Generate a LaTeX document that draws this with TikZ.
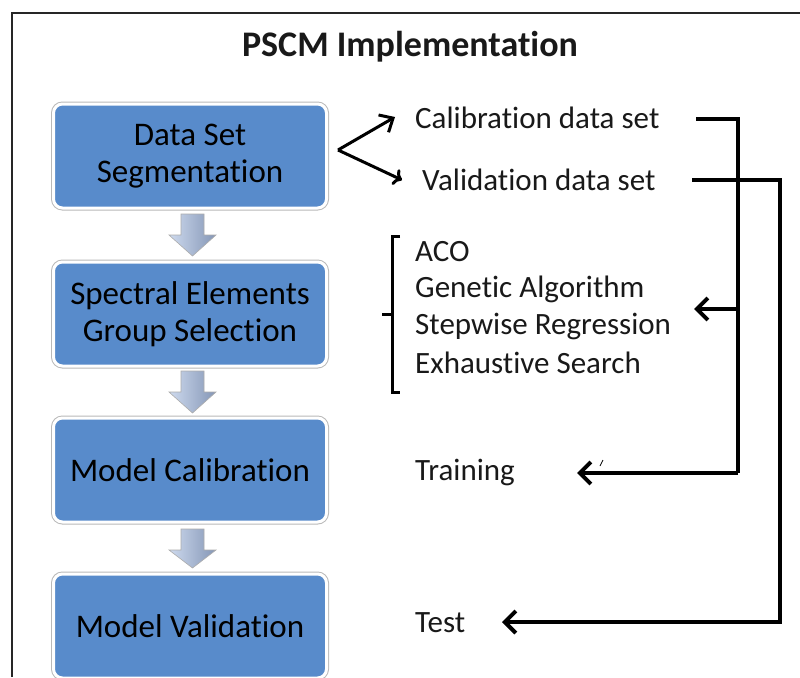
\documentclass[tikz,border=0pt]{standalone}
\usepackage{fontspec}
\setmainfont{Carlito}[Ligatures={NoCommon,NoRare,NoContextual}]
\usetikzlibrary{arrows.meta}
\definecolor{boxblue}{RGB}{88,139,203}
\definecolor{inkgray}{RGB}{25,25,25}
\definecolor{arrowlight}{RGB}{206,218,238}
\definecolor{arrowdark}{RGB}{132,150,182}
\begin{document}
\begin{tikzpicture}[x=1pt,y=-1pt,
  stage/.style={rounded corners=9pt, fill=boxblue, draw=white, line width=3pt,
    preaction={draw=gray!55, line width=5pt},
    minimum width=273pt, minimum height=104pt, align=center, inner sep=0pt,
    font=\fontsize{33}{37}\selectfont, text=black},
  side/.style={anchor=west, inner sep=0pt, font=\fontsize{31}{36}\selectfont, text=inkgray},
  conn/.style={line width=4pt, draw=black, -{Straight Barb[length=11pt,width=22pt]}},
  fork/.style={line width=3pt, draw=black, -{Straight Barb[length=11pt,width=20pt]}},
  flowarrow/.style={left color=arrowlight, right color=arrowdark, draw=gray!65, line width=0.6pt}]

\useasboundingbox (0,0) rectangle (800,677);
\fill[white] (0,0) rectangle (800,677);

% outer frame (left and top edges)
\draw[line width=2pt, black!85] (12,677) -- (12,13) -- (800,13);

% title
\node[font=\bfseries\fontsize{36}{40}\selectfont, text=inkgray] (title) at (410,47) {PSCM Implementation};

% process stages
\node[stage] (seg) at (190,156) {Data Set\\Segmentation};
\node[stage] (sel) at (190,314) {Spectral Elements\\Group Selection};
\node[stage] (cal) at (190,470) {Model Calibration};
\node[stage] (val) at (190,626) {Model Validation};

% block arrows between stages
\foreach \t/\h in {214/42, 371/42, 529/39}{
  \shade[flowarrow] (181,\t) -- (204,\t) -- (204,\t+21) -- (216,\t+21)
    -- (192.5,\t+\h) -- (169,\t+21) -- (181,\t+21) -- cycle;
}

% data set split
\node[side] (calset) at (415,118) {Calibration data set};
\node[side] (valset) at (422,180) {Validation data set};
\coordinate (split) at (338,150);
\draw[fork] (split) -- ([xshift=-20pt,yshift=1pt]calset.west);
\draw[fork, <-] ([xshift=-20pt]valset.west) -- (split);

% selection methods with bracket
\node[side] (aco) at (415,252) {ACO};
\node[side] (ga)  at (415,289) {Genetic Algorithm};
\node[side] (sr)  at (415,326) {Stepwise Regression};
\node[side] (es)  at (415,363) {Exhaustive Search};
\draw[line width=3pt, line cap=butt] (400,236) -- (392,236) -- (392,392) -- (400,392);
\draw[line width=3pt] (392,314) -- (382,314);

\node[side] (train) at (415,472) {Training};
\node[side] (test)  at (415,623) {Test};

% calibration set routing
\coordinate (c0) at (696,119);
\coordinate (c1) at (738,119);
\coordinate (c2) at (738,309);
\coordinate (c3) at (738,473);
\draw[line width=4pt, line join=miter] (c0) -- (c1) -- (c3);
\draw[conn] (c2) -- (694,309);
\draw[conn] (c3) -- (577,473);
\draw[line width=0.8pt] (600,466) -- (603,460);

% validation set routing
\coordinate (v0) at (692,180);
\coordinate (v1) at (780,180);
\coordinate (v2) at (780,622);
\draw[conn, line join=miter] (v0) -- (v1) -- (v2) -- (502,622);
\end{tikzpicture}
\end{document}
